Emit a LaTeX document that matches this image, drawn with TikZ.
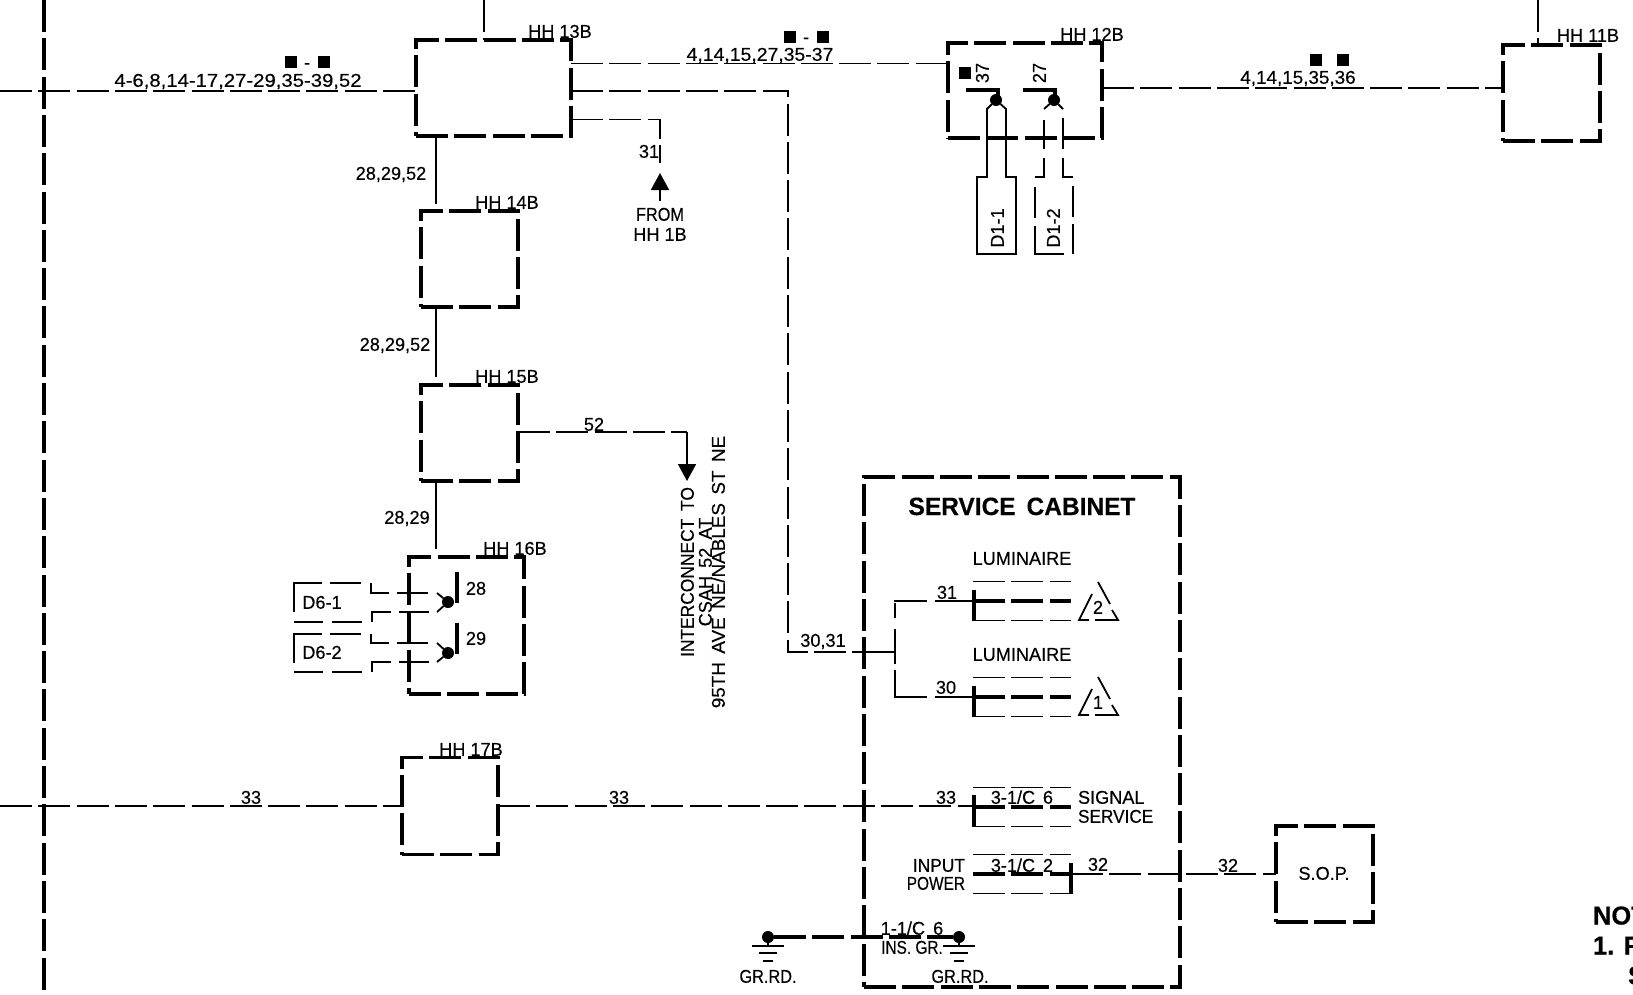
\documentclass[tikz,border=0pt]{standalone}
\usepackage{fontspec}
\setmainfont[FakeStretch=0.98,FakeBold=0.35]{Liberation Sans}
\usetikzlibrary{arrows.meta}
\tikzset{
  wire/.style={line width=1.8pt,dash pattern=on 32pt off 6.3pt,line join=miter},
  solidwire/.style={line width=1.8pt},
  heavy/.style={line width=3.6pt,dash pattern=on 32pt off 6.3pt},
  solidheavy/.style={line width=3.4pt},
  hbox/.style={draw,heavy,inner sep=0pt,outer sep=0pt,line join=miter},
  txt/.style={font=\fontsize{18.5pt}{18.5pt}\selectfont,inner sep=0pt,outer sep=0pt,text height=13.5pt,text depth=0pt,anchor=center},
  lbl/.style={txt,anchor=west},
  big/.style={font=\fontsize{25pt}{25pt}\bfseries\selectfont,inner sep=0pt,outer sep=0pt,text height=18pt,text depth=0pt},
  note/.style={font=\fontsize{26pt}{26pt}\bfseries\selectfont,inner sep=0pt,outer sep=0pt,text height=19pt,text depth=0pt,anchor=west},
  sq/.style={fill=black,inner sep=0pt,outer sep=0pt,minimum width=12pt,minimum height=12pt},
  dot/.style={circle,fill=black,inner sep=0pt,outer sep=0pt,minimum size=12pt},
  tip/.style={-{Triangle[length=17pt,width=18pt]}},
}
\newcommand{\triple}[3]{%
  \draw[wire] (#1,#3-19.5) -- (#2,#3-19.5);
  \draw[heavy] (#1,#3) -- (#2,#3);
  \draw[wire] (#1,#3+19.5) -- (#2,#3+19.5);}
\newcommand{\tria}[3]{%
  \draw[solidwire] (#1,#2) -- ++(12,22);
  \draw[solidwire,line join=miter] (#1+14,#2+28) -- (#1+20,#2+38) -- (#1-3,#2+38);
  \draw[solidwire,line join=miter] (#1-9,#2+38) -- (#1-19,#2+38) -- (#1-6,#2+12);
  \node[txt] (tn#3) at (#1,#2+25) {#3};}
\begin{document}
\begin{tikzpicture}[x=1pt,y=-1pt]
\useasboundingbox (0,0) rectangle (1633,994);
% left bus
\coordinate (bust) at (44,0); \coordinate (busb) at (44,994);
\draw[heavy] (bust) -- (busb);
% boxes
\node[hbox,minimum width=155pt,minimum height=96pt] (h13) at (493.5,88) {};
\node[hbox,minimum width=97pt,minimum height=96pt] (h14) at (469.5,259) {};
\node[hbox,minimum width=97pt,minimum height=96pt] (h15) at (469.5,433) {};
\node[hbox,minimum width=115pt,minimum height=137pt] (h16) at (466.5,625.5) {};
\node[hbox,minimum width=96pt,minimum height=97pt] (h17) at (450,806) {};
\node[hbox,minimum width=154pt,minimum height=95pt] (h12) at (1025,90.5) {};
\node[hbox,minimum width=97pt,minimum height=96pt] (h11) at (1551.5,93) {};
\node[hbox,minimum width=97pt,minimum height=96pt] (sop) at (1324.5,874) {};
\node[hbox,minimum width=316pt,minimum height=510pt] (cab) at (1022,732) {};
% box labels
\node[txt] (t13) at (560,31) {HH 13B};
\node[txt] (t14) at (507,202) {HH 14B};
\node[txt] (t15) at (507,376) {HH 15B};
\node[txt] (t16) at (515,548) {HH 16B};
\node[txt] (t17) at (471,749) {HH 17B};
\node[txt] (t12) at (1092,34) {HH 12B};
\node[txt] (t11) at (1588,35) {HH 11B};
\node[txt] (tsop) at (1324,873) {S.O.P.};
\node[big] (tcab) at (1022,506) {SERVICE\, CABINET};
% free ends
\coordinate (w0) at (0,90.7);
\coordinate (v13) at (484,0);
\coordinate (v11) at (1538,0);
\coordinate (w33) at (0,806);
% connectors top
\draw[wire] (w0) -- ([yshift=-2.7pt]h13.west);
\draw[wire] (v13) -- (v13 |- h13.north);
\draw[wire] ([yshift=24.5pt]h13.east) -- ([yshift=27pt]h12.west);
\coordinate (c1) at (788,90.7);
\coordinate (c2) at (788,652);
\coordinate (c3) at (864,652);
\coordinate (c3b) at (895,652);
\draw[wire] ([yshift=-2.7pt]h13.east) -- (c1) -- (c2) -- (c3);
\draw[solidwire] (c3) -- (c3b);
\coordinate (c4) at (660,119.5);
\coordinate (c5) at (660,163);
\draw[wire] ([yshift=-31.5pt]h13.east) -- (c4) -- (c5);
\node[txt,xscale=0.9] (from) at (660,214) {FROM};
\node[txt] (hh1b) at (660,234) {HH 1B};
\coordinate (a31) at (660,173);
\draw[solidwire,tip] (660,201) -- (a31);
\draw[wire] ([yshift=2.5pt]h12.east) -- ([yshift=5pt]h11.west);
\draw[wire] (v11) -- (v11 |- h11.north);
% column
\coordinate (k13) at (436,136);
\coordinate (k14) at (436,204);
\coordinate (k14b) at (436,307);
\coordinate (k15) at (436,377);
\coordinate (k15b) at (436,481);
\coordinate (k16) at (436,549);
\draw[solidwire] (k13) -- (k14);
\draw[solidwire] (k14b) -- (k15);
\draw[solidwire] (k15b) -- (k16);
% 52
\coordinate (c52) at (687,432);
\coordinate (a52) at (687,481);
\draw[wire] ([yshift=1pt]h15.east) -- (c52);
\draw[solidwire,tip] (c52) -- (a52);
% 33
\draw[wire] (w33) -- (h17.west);
\coordinate (c33) at (974,806);
\draw[wire] (h17.east) -- (c33);
% labels on wires
\node[txt,xscale=1.12] (l1) at (238,80) {4-6,8,14-17,27-29,35-39,52};
\node[sq] (s1) at (291,62) {}; \node[txt] (sd1) at (307,62) {-}; \node[sq] (s2) at (324,62) {};
\node[txt,xscale=1.07] (l2) at (760,54) {4,14,15,27,35-37};
\node[sq] (s3) at (790,36.5) {}; \node[txt] (sd2) at (806,36.5) {-}; \node[sq] (s4) at (823,36.5) {};
\node[txt,xscale=1.04] (l3) at (1298,77) {4,14,15,35,36};
\node[sq] (s5) at (1316,60) {}; \node[sq] (s6) at (1343,60) {};
\node[txt] (l31) at (649,151) {31};
\node[txt] (l4) at (391,173) {28,29,52};
\node[txt] (l5) at (395,344) {28,29,52};
\node[txt] (l6) at (407,517) {28,29};
\node[txt] (l52) at (594,424) {52};
\node[txt] (l3031) at (823,640) {30,31};
\node[txt] (l33a) at (251,797) {33};
\node[txt] (l33b) at (619,797) {33};
\node[txt] (l33c) at (946,797) {33};
\node[txt] (l32a) at (1098,864) {32};
\node[txt] (l32b) at (1228,865) {32};
% rotated text
\node[txt,rotate=90,xscale=0.96] (r1) at (687,572) {INTERCONNECT\, TO};
\node[txt,rotate=90] (r2) at (705,572) {CSAH\, 52\, AT};
\node[txt,rotate=90,xscale=1.04] (r3) at (718,572) {95TH\, AVE\, NE/NABLES\, ST\, NE};
% 12B interior
\node[sq] (s7) at (965,73) {};
\node[txt,rotate=90] (t37) at (982,73) {37};
\node[txt,rotate=90] (t27) at (1039,73) {27};
\node[dot] (d1) at (996,100) {};
\node[dot] (d2) at (1054,100) {};
\draw[solidheavy,line join=miter] (966,90) -- (998,90) -- (998,100);
\draw[solidheavy,line join=miter] (1023,90) -- (1055,90) -- (1055,100);
\draw[solidwire,line join=miter] (d1) -- (987,109) -- (987,177) -- (977,177) -- (977,254) -- (1016,254) -- (1016,177) -- (1006,177) -- (1006,109) -- (d1);
\node[txt,rotate=90] (td11) at (997,228) {D1-1};
\draw[solidwire] (d2) -- (1044,109);
\draw[solidwire] (d2) -- (1063,109);
\draw[solidwire] (1044,120) -- (1044,149);
\draw[solidwire,line join=miter] (1044,158) -- (1044,177) -- (1035,177);
\draw[solidwire,line join=miter] (1035,187) -- (1035,218);
\draw[solidwire,line join=miter] (1035,226) -- (1035,254) -- (1064,254);
\draw[solidwire] (1063,118) -- (1063,149);
\draw[solidwire,line join=miter] (1063,158) -- (1063,177) -- (1073,177);
\draw[solidwire] (1073,186) -- (1073,217);
\draw[solidwire] (1073,224) -- (1073,254);
\node[txt,rotate=90] (td12) at (1053,228) {D1-2};
% 16B interior
\node[dot] (d3) at (448,602) {};
\node[dot] (d4) at (448,653) {};
\draw[solidheavy] (457,572) -- (457,603);
\draw[solidheavy] (457,623) -- (457,654);
\node[txt] (t28) at (476,588) {28};
\node[txt] (t29) at (476,638) {29};
\draw[solidwire] (d3) -- (437,593); \draw[solidwire] (d3) -- (437,612);
\draw[solidwire] (d4) -- (437,643); \draw[solidwire] (d4) -- (437,662);
\foreach \yt/\yb/\ya/\yc in {593/612/583/622,643/662/634/672}{
  \draw[solidwire,line join=miter] (371,\ya) -- (371,\yt) -- (389,\yt);
  \draw[solidwire] (397,\yt) -- (428,\yt);
  \draw[solidwire,line join=miter] (372,\yc) -- (372,\yb) -- (391,\yb);
  \draw[solidwire] (399,\yb) -- (429,\yb);
  \draw[solidwire,line join=miter] (294,\ya+29) -- (294,\ya) -- (322,\ya);
  \draw[solidwire] (330,\ya) -- (361,\ya);
  \draw[solidwire] (294,\yc) -- (323,\yc);
  \draw[solidwire] (332,\yc) -- (362,\yc);
}
\node[txt] (d61) at (322,602) {D6-1};
\node[txt] (d62) at (322,652) {D6-2};
% luminaires
\node[txt] (lu1) at (1022,558) {LUMINAIRE};
\node[txt] (lu2) at (1022,654) {LUMINAIRE};
\triple{973}{1071}{601}
\triple{973}{1071}{697}
\draw[solidheavy] (974,590) -- (974,621);
\draw[solidheavy] (974,686) -- (974,717);
\draw[solidwire] (895,603) -- (895,618);
\draw[solidwire] (895,629) -- (895,664);
\draw[solidwire] (895,670) -- (895,697);
\draw[line width=2.6pt] (894,601) -- (927,601);
\draw[line width=2.6pt] (894,697) -- (927,697);
\draw[solidwire] (935,601) -- (974,601);
\draw[solidwire] (935,697) -- (974,697);
\node[txt] (l31b) at (947,592) {31};
\node[txt] (l30) at (946,687) {30};
\tria{1098}{582}{2}
\tria{1098}{677}{1}
% signal / input
\triple{973}{1071}{807}
\draw[solidheavy] (974,795) -- (974,827);
\node[txt] (c1a) at (1013,797) {3-1/C};
\node[txt] (c1b) at (1048,797) {6};
\node[lbl] (sig) at (1078,797) {SIGNAL};
\node[lbl,xscale=0.95] (ser) at (1078,816) {SERVICE};
\triple{973}{1071}{874}
\draw[solidheavy] (1071,863) -- (1071,894);
\node[txt] (c2a) at (1013,865) {3-1/C};
\node[txt] (c2b) at (1048,865) {2};
\node[txt,anchor=east,xscale=0.96] (inp) at (965,865) {INPUT};
\node[txt,anchor=east,xscale=0.85] (pow) at (965,883) {POWER};
\coordinate (c32) at (1071,874);
\draw[wire] (c32) -- (sop.west);
% ground
\node[dot] (gl) at (768,937) {};
\node[dot] (gr) at (959,937) {};
\draw[heavy] (gl) -- (gr);
\foreach \g in {gl,gr}{
  \draw[line width=2pt] (\g) -- ++(0,9);
  \draw[line width=2pt] (\g) ++(-16,9) -- ++(32,0);
  \draw[line width=2pt] (\g) ++(-9,16) -- ++(18,0);
  \draw[line width=2pt] (\g) ++(-5,24) -- ++(10,0);
}
\node[txt,xscale=0.9] (gt1) at (768,976) {GR.RD.};
\node[txt,xscale=0.9] (gt2) at (960,976) {GR.RD.};
\node[txt] (ct) at (912,928) {1-1/C\, 6};
\node[txt,xscale=0.85] (ins) at (912,947) {INS. GR.};
% notes
\node[note] (n1) at (1593,915) {NOT};
\node[note] (n2) at (1593,945) {1. F};
\node[note] (n3) at (1628,975) {S};
\end{tikzpicture}
\end{document}
